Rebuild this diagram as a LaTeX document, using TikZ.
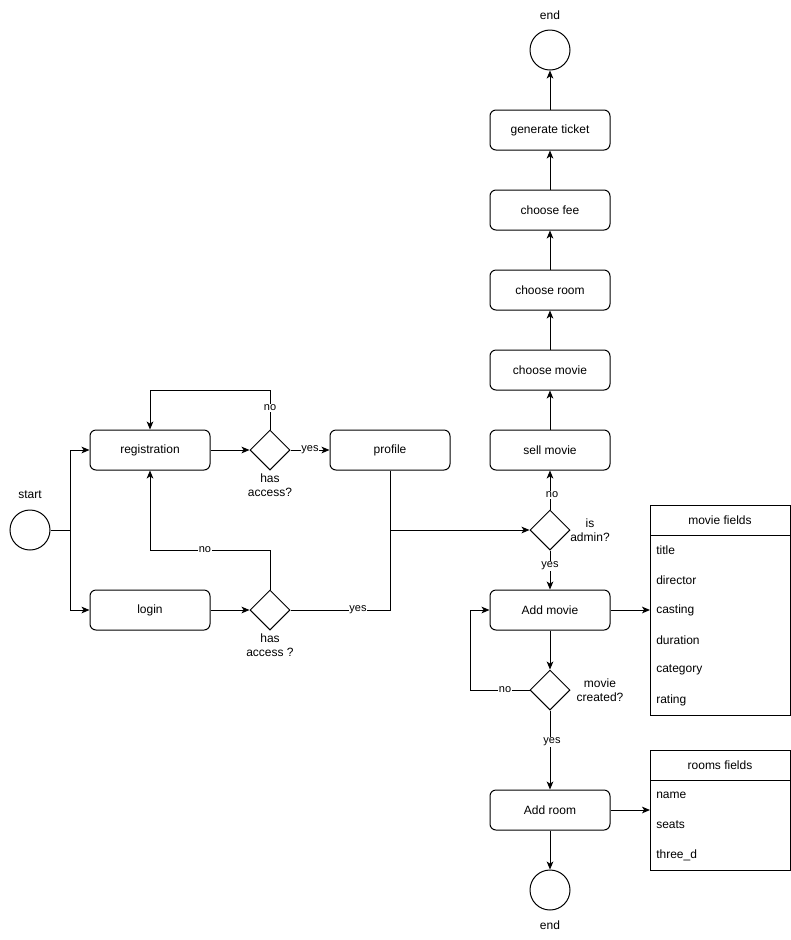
\documentclass[tikz,border=0pt]{standalone}
\usepackage{fontspec}
\setmainfont{Liberation Sans}
\usetikzlibrary{arrows.meta,shapes.geometric}
\begin{document}
\begin{tikzpicture}[x=0.75pt,y=-0.75pt,
  every node/.style={font=\fontsize{9}{10.5}\selectfont, inner sep=0pt},
  box/.style={draw, rounded corners=4.5pt, minimum width=90pt, minimum height=30pt, line width=0.75pt},
  dia/.style={draw, diamond, aspect=1, minimum width=30pt, minimum height=30pt, line width=0.75pt},
  term/.style={draw, circle, minimum size=30pt, line width=0.75pt},
  lbl/.style={align=center},
  elbl/.style={font=\fontsize{8.25}{9}\selectfont, fill=white, inner sep=0.5pt},
  conn/.style={line width=0.75pt},
  arr/.style={conn, -{Stealth[length=6pt,width=5pt,inset=1.6pt]}},
  fld/.style={anchor=west},
  tbl/.style={draw, line width=0.75pt}
]
\useasboundingbox (0,0) rectangle (791,940);

% nodes
\node[term] (start) at (30,530) {};
\node (startl) at (30,495) {start};
\node[box] (reg) at (150,450) {registration};
\node[box] (login) at (150,610) {login};
\node[dia] (d1) at (270,450) {};
\node[lbl] (d1l) at (270,485) {has\\access?};
\node[dia] (d2) at (270,610) {};
\node[lbl] (d2l) at (270,645) {has\\access ?};
\node[box] (profile) at (390,450) {profile};
\node[dia] (adm) at (550,530) {};
\node[lbl] (adml) at (590,530) {is\\admin?};
\node[box] (sell) at (550,450) {sell movie};
\node[box] (cmovie) at (550,370) {choose movie};
\node[box] (croom) at (550,290) {choose room};
\node[box] (cfee) at (550,210) {choose fee};
\node[box] (gen) at (550,130) {generate ticket};
\node[term] (end1) at (550,50) {};
\node (end1l) at (550,15) {end};
\node[box] (addm) at (550,610) {Add movie};
\node[dia] (mc) at (550,690) {};
\node[lbl] (mcl) at (600,690) {movie\\created?};
\node[box] (addr) at (550,810) {Add room};
\node[term] (end2) at (550,890) {};
\node (end2l) at (550,925) {end};

% movie fields table
\node[tbl, minimum width=105pt, minimum height=157.5pt, anchor=north west] (mf) at (650,505) {};
\draw[conn] (650,535) -- (790,535);
\node (mfh) at (720,520) {movie fields};
\node[fld] (f1) at (656,550) {title};
\node[fld] (f2) at (656,580) {director};
\node[fld] (f3) at (656,610) {casting};
\node[fld] (f4) at (656,640) {duration};
\node[fld] (f5) at (656,670) {category};
\node[fld] (f6) at (656,700) {rating};

% rooms fields table
\node[tbl, minimum width=105pt, minimum height=90pt, anchor=north west] (rf) at (650,750) {};
\draw[conn] (650,780) -- (790,780);
\node (rfh) at (720,765) {rooms fields};
\node[fld] (r1) at (656,795) {name};
\node[fld] (r2) at (656,825) {seats};
\node[fld] (r3) at (656,855) {three\_d};

% connectors
\coordinate (split) at (70,530);
\draw[conn] (start.east) -- (split);
\draw[arr] (split) |- (reg.west);
\draw[arr] (split) |- (login.west);
\draw[arr] (reg.east) -- (d1.west);
\draw[arr] (d1.east) -- node[elbl] {yes} (profile.west);
\draw[arr] (d1.north) -- (270,390) -- (150,390) -- (reg.north);
\node[elbl] at (270,408) {no};
\draw[arr] (login.east) -- (d2.west);
\draw[arr] (d2.north) -- (270,550) -- (150,550) -- (reg.south);
\node[elbl] at (205,550) {no};
\draw[conn] (d2.east) -| (profile.south);
\node[elbl] at (358,610) {yes};
\draw[arr] (profile.south) |- (adm.west);
\draw[arr] (adm.north) -- (sell.south);
\node[elbl] at (552,495) {no};
\draw[arr] (adm.south) -- (addm.north);
\node[elbl] at (550,566) {yes};
\draw[arr] (sell.north) -- (cmovie.south);
\draw[arr] (cmovie.north) -- (croom.south);
\draw[arr] (croom.north) -- (cfee.south);
\draw[arr] (cfee.north) -- (gen.south);
\draw[arr] (gen.north) -- (end1.south);
\draw[arr] (addm.east) -- (mf.west |- addm.east);
\draw[arr] (addm.south) -- (mc.north);
\draw[arr] (mc.west) -- (470,690) -- (470,610) -- (addm.west);
\node[elbl] at (505,690) {no};
\draw[arr] (mc.south) -- (addr.north);
\node[elbl] at (552,742) {yes};
\draw[arr] (addr.east) -- (rf.west |- addr.east);
\draw[arr] (addr.south) -- (end2.north);
\end{tikzpicture}
\end{document}
